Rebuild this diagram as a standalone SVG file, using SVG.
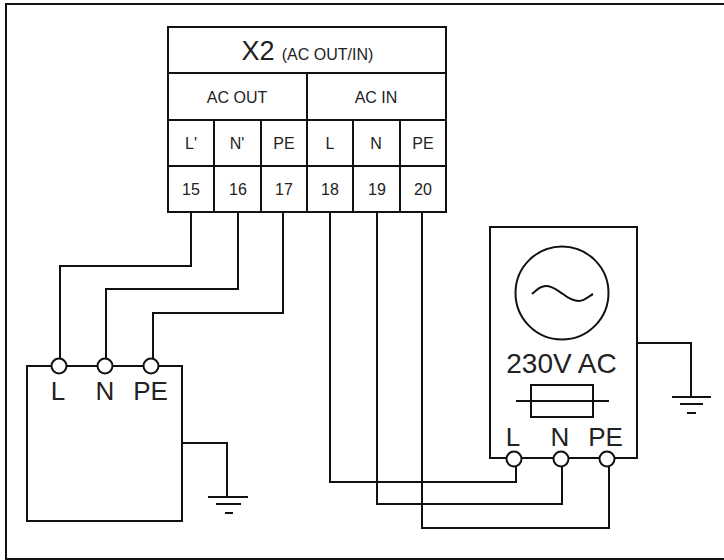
<svg xmlns="http://www.w3.org/2000/svg" width="724" height="560" viewBox="0 0 724 560">
<style>
.l{fill:none;stroke:#111;stroke-width:2}
.p{fill:#fff;stroke:#111;stroke-width:2}
text{font-family:"Liberation Sans",Arial,sans-serif;fill:#222;text-anchor:middle}
.s{font-size:16px}
.b{font-size:26px}
</style>
<rect width="724" height="560" fill="#fff"/>
<path d="M724 4H6V559H724" class="l"/>
<g id="connectors">
<path class="l" d="M191 212V266H60V358"/>
<path class="l" d="M238 212V289H106V358"/>
<path class="l" d="M283 212V313H153V358"/>
<path class="l" d="M330 212V482H516V467"/>
<path class="l" d="M377 212V504H562V467"/>
<path class="l" d="M422 212V528H609V467"/>
<path class="l" d="M182 443H227V497"/>
<path class="l" d="M637 343H691V397"/>
</g>
<g id="x2">
<rect x="168" y="27" width="278" height="185" class="l"/>
<path class="l" d="M168 73H446M168 120H446M168 166H446M307 73V212M214 120V212M261 120V212M353 120V212M400 120V212"/>
<text x="258" y="60" style="font-size:27px">X2</text>
<text x="327.500" y="60" class="s">(AC OUT/IN)</text>
<text x="237" y="103" class="s">AC OUT</text>
<text x="376" y="103" class="s">AC IN</text>
<text x="191" y="149" class="s">L'</text><text x="237" y="149" class="s">N'</text><text x="284" y="149" class="s">PE</text>
<text x="330" y="149" class="s">L</text><text x="376" y="149" class="s">N</text><text x="423" y="149" class="s">PE</text>
<text x="191" y="195" class="s">15</text><text x="238" y="195" class="s">16</text><text x="284" y="195" class="s">17</text>
<text x="330" y="195" class="s">18</text><text x="377" y="195" class="s">19</text><text x="423" y="195" class="s">20</text>
</g>
<g id="load">
<rect x="27" y="366" width="155" height="155" class="l"/>
<circle cx="59" cy="366" r="7.500" class="p"/><circle cx="105" cy="366" r="7.500" class="p"/><circle cx="151" cy="366" r="7.500" class="p"/>
<text x="58" y="400" class="b">L</text><text x="105" y="400" class="b">N</text><text x="150.500" y="400" class="b">PE</text>
</g>
<g id="ground-left">
<path class="l" d="M208 497H248M216 504H241M225 513H233"/>
</g>
<g id="source">
<rect x="490" y="227" width="147" height="231" class="l"/>
<circle cx="562" cy="293" r="46.500" class="l"/>
<path class="l" d="M532 294C538 289 541 286 546 286C553 286 558 291 563 294C568 298 573 301 579 301C585 301 589 296 593 294"/>
<text x="561.500" y="373" style="font-size:28px">230V AC</text>
<rect x="531" y="385" width="62" height="32" class="l"/>
<path class="l" d="M516 401H609"/>
<circle cx="514" cy="459" r="7.500" class="p"/><circle cx="561" cy="459" r="7.500" class="p"/><circle cx="607" cy="459" r="7.500" class="p"/>
<text x="513" y="446" class="b">L</text><text x="560" y="446" class="b">N</text><text x="605.500" y="446" class="b">PE</text>
</g>
<g id="ground-right">
<path class="l" d="M672 397H711M680 404H703M687 413H696"/>
</g>
</svg>
